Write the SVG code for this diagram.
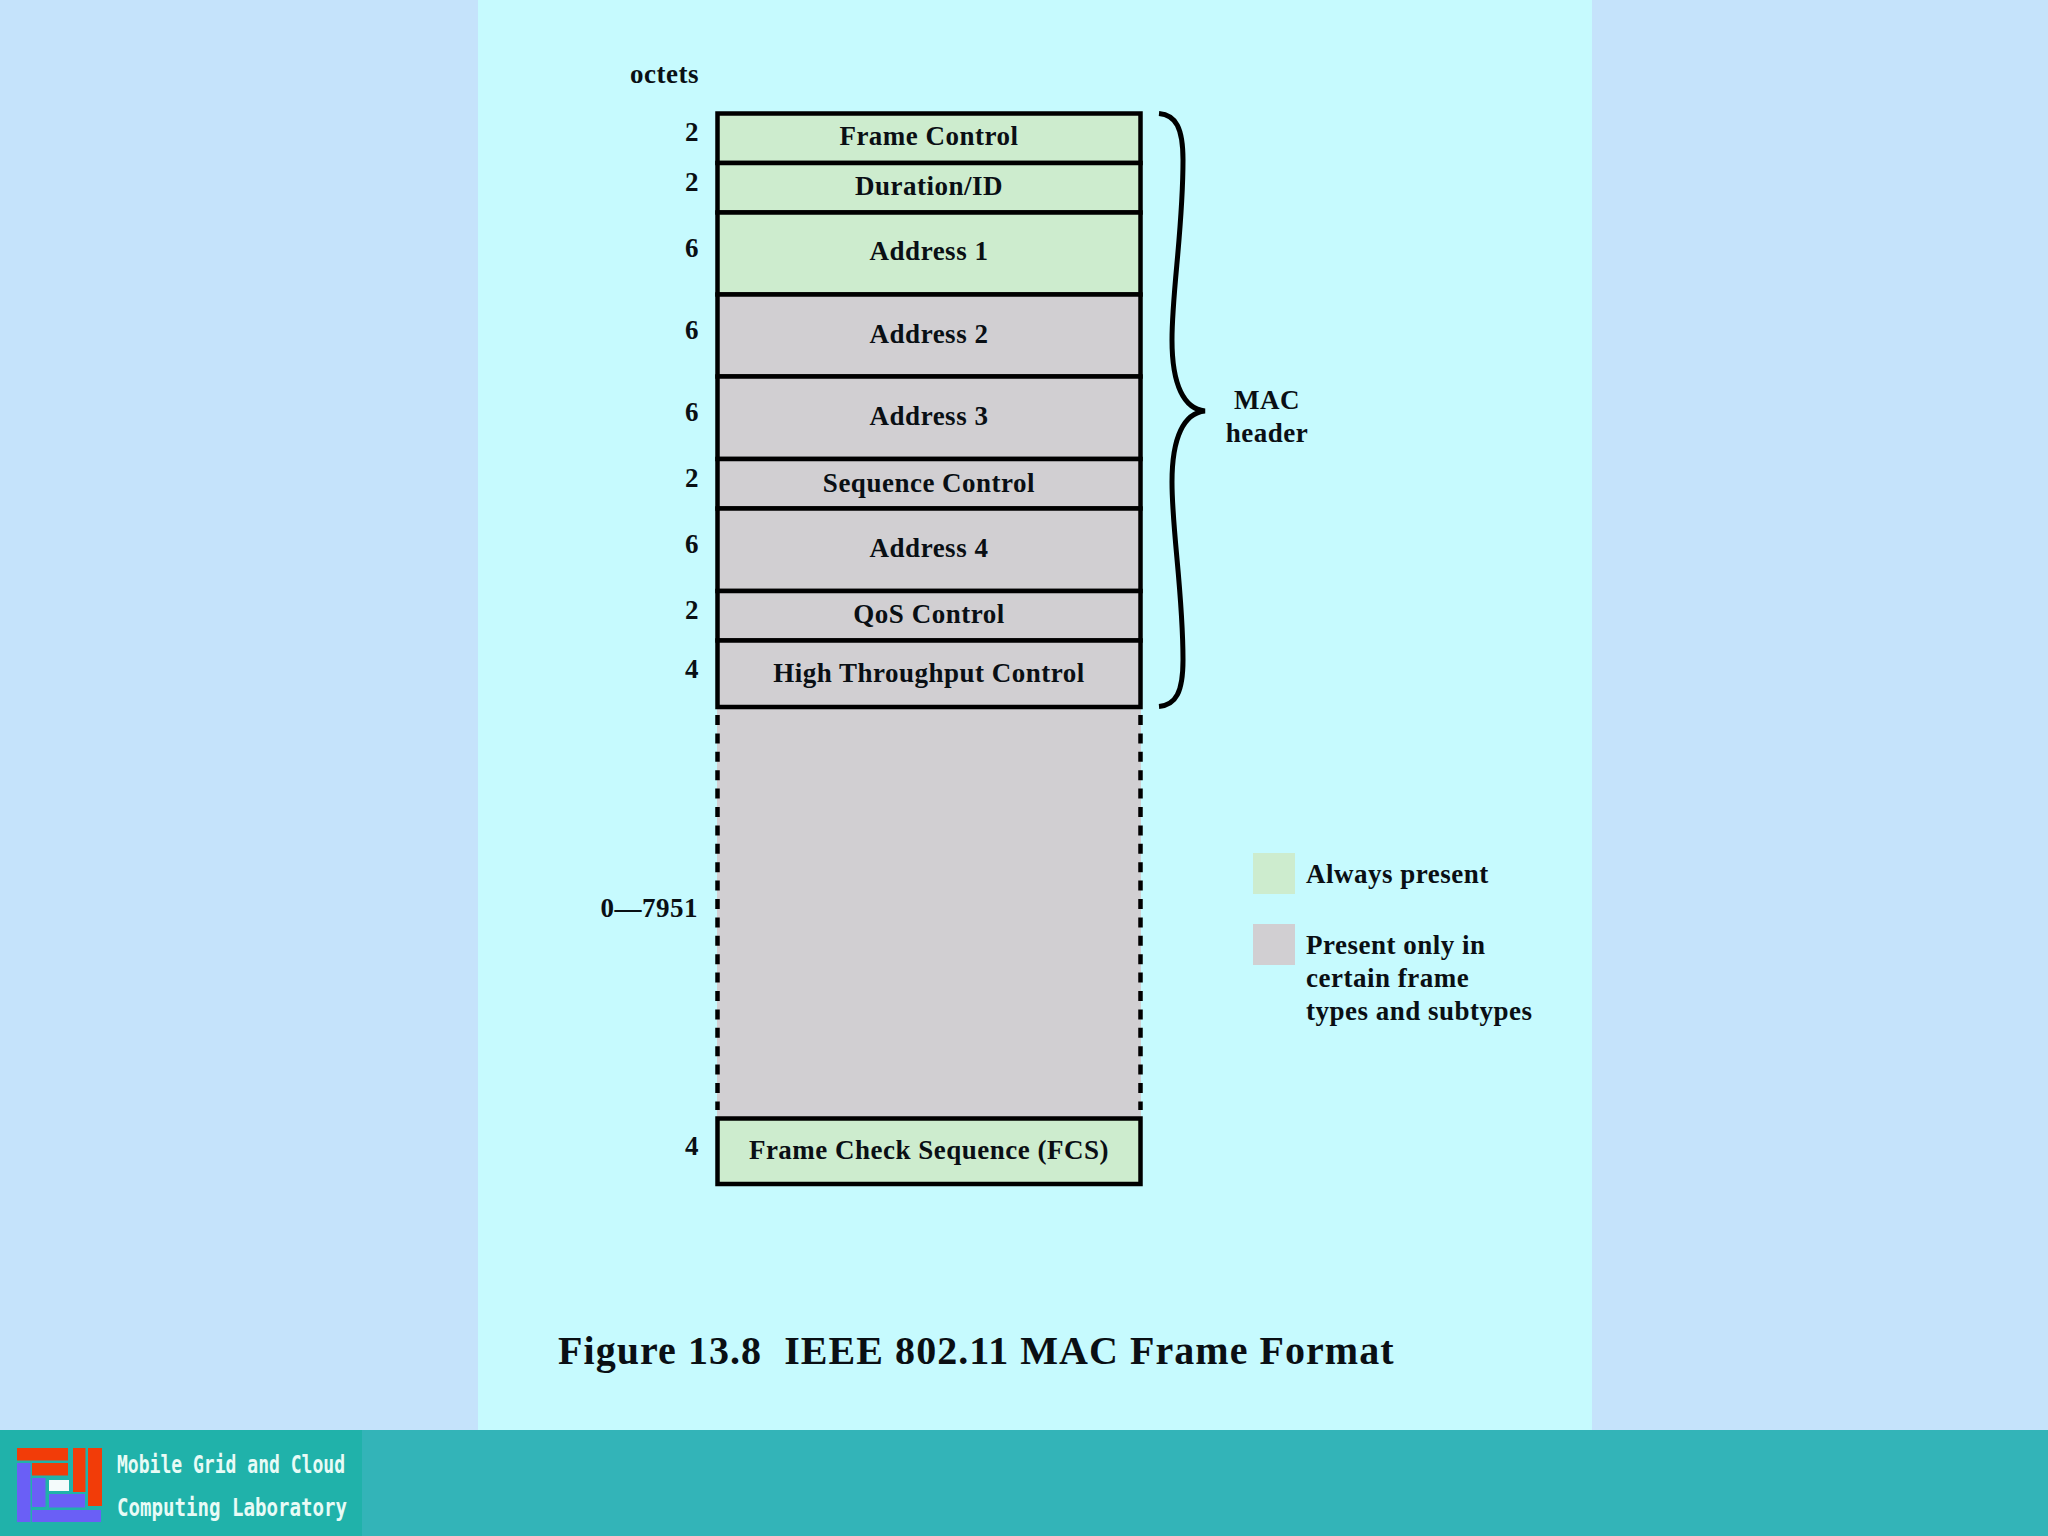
<svg xmlns="http://www.w3.org/2000/svg" width="2048" height="1536" viewBox="0 0 2048 1536">
<style>
text{font-family:"Liberation Serif","Times New Roman",serif;font-weight:bold;font-size:27px;fill:#0a0f14;letter-spacing:.5px}
.c{text-anchor:middle}
.e{text-anchor:end}
.f{stroke:#000;stroke-width:4.5px}
.g{fill:#cdecce}
.y{fill:#d1cfd2}
.l{font-family:"DejaVu Sans Mono","Liberation Mono",monospace;font-size:25px;fill:#e8fbf6;letter-spacing:0;font-weight:bold}
</style>
<rect width="2048" height="1536" fill="#c5e3fb"/>
<rect x="478" y="0" width="1114" height="1431" fill="#c6fafe"/>
<rect y="1430" width="2048" height="106" fill="#33b4b8"/>
<rect y="1430" width="362" height="106" fill="#20b2aa"/>
<g id="logo">
<rect x="17" y="1448" width="51" height="12.500" fill="#f23c08"/>
<rect x="32" y="1463" width="36" height="12.500" fill="#f23c08"/>
<rect x="73" y="1448" width="12.500" height="44" fill="#f23c08"/>
<rect x="88" y="1448" width="14" height="58" fill="#f23c08"/>
<rect x="17" y="1463" width="13.500" height="59" fill="#6a5ff6"/>
<rect x="32" y="1478" width="13.500" height="29" fill="#6a5ff6"/>
<rect x="49" y="1480" width="20" height="11" fill="#f4fbfb"/>
<rect x="49" y="1494" width="36" height="13.500" fill="#6a5ff6"/>
<rect x="32" y="1510" width="69" height="12" fill="#6a5ff6"/>
<text class="l" x="117" y="1473" textLength="228" lengthAdjust="spacingAndGlyphs">Mobile Grid and Cloud</text>
<text class="l" x="117" y="1516" textLength="230" lengthAdjust="spacingAndGlyphs">Computing Laboratory</text>
</g>
<g id="payload">
<rect x="717" y="707" width="424" height="411" class="y"/>
<path d="M717.5 715V1110M1140.5 715V1110" fill="none" stroke="#000" stroke-width="4.5" stroke-dasharray="10 8.4"/>
</g>
<g id="frame-control"><rect x="717.5" y="113.500" width="423" height="49.500" class="g f"/><text class="c" x="929" y="145">Frame Control</text></g>
<g id="duration"><rect x="717.5" y="163" width="423" height="49.500" class="g f"/><text class="c" x="929" y="195">Duration/ID</text></g>
<g id="address1"><rect x="717.5" y="212.500" width="423" height="82" class="g f"/><text class="c" x="929" y="260">Address 1</text></g>
<g id="address2"><rect x="717.5" y="294.500" width="423" height="82" class="y f"/><text class="c" x="929" y="343">Address 2</text></g>
<g id="address3"><rect x="717.5" y="376.500" width="423" height="82.500" class="y f"/><text class="c" x="929" y="425">Address 3</text></g>
<g id="sequence"><rect x="717.5" y="459" width="423" height="49.500" class="y f"/><text class="c" x="929" y="492">Sequence Control</text></g>
<g id="address4"><rect x="717.5" y="508.500" width="423" height="82.500" class="y f"/><text class="c" x="929" y="557">Address 4</text></g>
<g id="qos"><rect x="717.5" y="591" width="423" height="49.500" class="y f"/><text class="c" x="929" y="623">QoS Control</text></g>
<g id="ht"><rect x="717.5" y="640.500" width="423" height="66.500" class="y f"/><text class="c" x="929" y="682">High Throughput Control</text></g>
<g id="fcs"><rect x="717.5" y="1118.500" width="423" height="65.500" class="g f"/><text class="c" x="929" y="1159">Frame Check Sequence (FCS)</text></g>
<g id="octets">
<text class="e" x="699" y="83">octets</text>
<text class="e" x="699" y="141">2</text><text class="e" x="699" y="191">2</text>
<text class="e" x="699" y="257">6</text><text class="e" x="699" y="339">6</text>
<text class="e" x="699" y="421">6</text><text class="e" x="699" y="487">2</text>
<text class="e" x="699" y="553">6</text><text class="e" x="699" y="619">2</text>
<text class="e" x="699" y="678">4</text><text class="e" x="698" y="917">0—7951</text>
<text class="e" x="699" y="1155">4</text>
</g>
<g id="connectors">
<path id="brace" d="M1159 113.500C1176 115 1183 128 1183 160C1183 230 1172 290 1172 340C1172 385 1184 409 1205 411C1184 413 1172 437 1172 482C1172 532 1183 592 1183 660C1183 692 1176 705 1159 706.500" fill="none" stroke="#000" stroke-width="5"/>
</g>
<g id="mac-label"><text class="c" x="1267" y="409">MAC</text><text class="c" x="1267" y="442">header</text></g>
<g id="legend">
<rect x="1253" y="853" width="42" height="41" class="g"/>
<text x="1306" y="883">Always present</text>
<rect x="1253" y="924" width="42" height="41" class="y"/>
<text x="1306" y="954">Present only in</text>
<text x="1306" y="987">certain frame</text>
<text x="1306" y="1020">types and subtypes</text>
</g>
<text x="558" y="1364" xml:space="preserve" style="font-size:40px;letter-spacing:1.05px;white-space:pre">Figure 13.8  IEEE 802.11 MAC Frame Format</text>
</svg>
